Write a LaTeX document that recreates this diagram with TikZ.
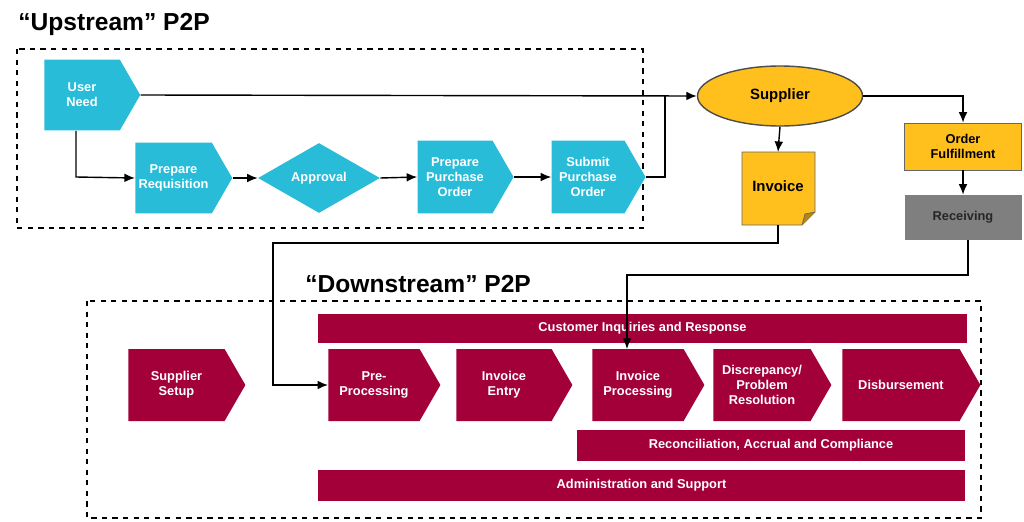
\documentclass[tikz,border=0pt]{standalone}
\usepackage{fontspec}
\setmainfont{Liberation Sans}
\usetikzlibrary{shapes.symbols,shapes.geometric,arrows.meta}
\definecolor{cy}{HTML}{29BCD8}
\definecolor{cr}{HTML}{A3003A}
\definecolor{yl}{HTML}{FFC01E}
\definecolor{gr}{HTML}{7F7F7F}
\begin{document}
\begin{tikzpicture}[x=0.02cm,y=-0.02cm,
 txt/.style={font=\bfseries\fontsize{7.3}{8.6}\selectfont,align=center,inner sep=0pt},
 sig/.style={signal,signal to=east,signal pointer angle=120,draw=none,txt,text=white},
 up/.style={sig,fill=cy},
 dn/.style={sig,fill=cr},
 bar/.style={rectangle,fill=cr,text=white,txt},
 box/.style={draw,dashed,thick},
 con/.style={thick,-{Latex[length=6pt,width=5pt]}},
 ttl/.style={font=\bfseries\fontsize{14}{16}\selectfont,anchor=west,inner sep=0pt}]
\useasboundingbox (0,0) rectangle (1024,521);
\node[ttl] (t1) at (18,24) {“Upstream” P2P};
\node[ttl] (t2) at (305,284) {“Downstream” P2P};
\draw[box] (17,49) rectangle (643,228);
\draw[box] (87,301) rectangle (981,518);
% upstream
\node[up,minimum width=1.92cm,minimum height=1.42cm] (un) at (82,95) {User\\Need};
\node[up,minimum width=1.94cm,minimum height=1.42cm] (pr) at (173.5,178) {Prepare\\Requisition};
\node[diamond,aspect=1.75,fill=cy,text=white,txt,minimum width=2.44cm,minimum height=1.40cm] (ap) at (319,178) {Approval};
\node[up,minimum width=1.92cm,minimum height=1.46cm] (ppo) at (455,177) {Prepare\\Purchase\\Order};
\node[up,minimum width=1.88cm,minimum height=1.46cm] (spo) at (588,177) {Submit\\Purchase\\Order};
\node[ellipse,draw=black!70,thick,fill=yl,txt,font=\bfseries\fontsize{8.5}{10}\selectfont,minimum width=3.3cm,minimum height=1.2cm] (sup) at (780,96) {Supplier};
\node[rectangle,fill=yl,txt,minimum width=2.34cm,minimum height=0.94cm,draw=black!60] (of) at (963,146.5) {Order\\Fulfillment};
\node[rectangle,fill=gr,txt,text=black!85,minimum width=2.34cm,minimum height=0.9cm] (rc) at (963,217.5) {Receiving};
\fill[yl,draw=black!60] (742,152) -- (815,152) -- (815,212) -- (802,225) -- (742,225) -- cycle;
\draw[black!60,fill=yl!70!black] (815,212) -- (805,214) -- (802,225);
\node[txt,font=\bfseries\fontsize{8.5}{10}\selectfont] (inv) at (778,186) {Invoice};
\coordinate (invb) at (778,225);
% downstream
\node[bar,minimum width=12.98cm,minimum height=0.58cm] (ci) at (642.5,328.5) {Customer Inquiries and Response};
\node[dn,minimum width=2.34cm,minimum height=1.44cm] (ss) at (176.5,385) {Supplier\\Setup};
\node[dn,minimum width=2.24cm,minimum height=1.44cm] (pp) at (374,385) {Pre-\\Processing};
\node[dn,minimum width=2.32cm,minimum height=1.44cm] (ie) at (504,385) {Invoice\\Entry};
\node[dn,minimum width=2.24cm,minimum height=1.44cm] (ip) at (638,385) {Invoice\\Processing};
\node[dn,minimum width=2.36cm,minimum height=1.44cm] (dp) at (762,385) {Discrepancy/\\Problem\\Resolution};
\node[dn,minimum width=2.76cm,minimum height=1.44cm] (db) at (901,385) {Disbursement};
\node[bar,minimum width=7.76cm,minimum height=0.62cm] (rac) at (771,445.5) {Reconciliation, Accrual and Compliance};
\node[bar,minimum width=12.94cm,minimum height=0.62cm] (as) at (641.5,485.5) {Administration and Support};
% connectors
\draw[con] (un.east) -- (sup.west);
\draw[con] (un.south -| 76,0) -- (76,177) -- (pr.west);
\draw[con] (pr.east) -- (ap.west);
\draw[con] (ap.east) -- (ppo.west);
\draw[con] (ppo.east) -- (spo.west);
\draw[thick] (spo.east) -- (665,177) -- (665,96);
\draw[con] (sup.south) -- (inv.north |- 0,152);
\draw[con] (sup.east) -- (963,96) -- (of.north);
\draw[con] (of.south) -- (rc.north);
\draw[con] (invb) -- (778,243) -- (273,243) -- (273,385) -- (pp.west);
\draw[con] (rc.south -| 968,0) -- (968,275) -- (627,275) -- (627,349);
\end{tikzpicture}
\end{document}
